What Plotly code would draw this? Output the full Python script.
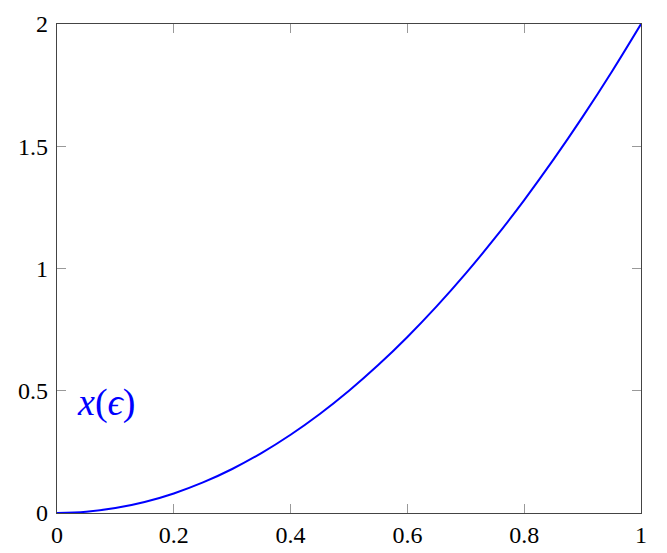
import plotly.graph_objects as go

eps = [0.0, 0.05, 0.1, 0.15, 0.2, 0.25, 0.3, 0.35, 0.4, 0.45, 0.5,
       0.55, 0.6, 0.65, 0.7, 0.75, 0.8, 0.85, 0.9, 0.95, 1.0]
x_eps = [0.0, 0.005, 0.02, 0.045, 0.08, 0.125, 0.18, 0.245, 0.32, 0.405, 0.5,
         0.605, 0.72, 0.845, 0.98, 1.125, 1.28, 1.445, 1.62, 1.805, 2.0]
x_ticks = [0, 0.2, 0.4, 0.6, 0.8, 1]
x_ticklabels = ["0", "0.2", "0.4", "0.6", "0.8", "1"]
y_ticks = [0, 0.5, 1, 1.5, 2]
y_ticklabels = ["0", "0.5", "1", "1.5", "2"]

FONT = "Liberation Serif"

fig = go.Figure()
fig.add_trace(go.Scatter(x=eps, y=x_eps, mode="lines", line=dict(color="#0000ff", width=2, shape="spline"),
                         showlegend=False, hoverinfo="skip"))

axis_common = dict(showgrid=False, zeroline=False, showline=True, linecolor="#444444", linewidth=1.2,
                   mirror="ticks", ticks="inside", ticklen=9, tickcolor="#999999", tickwidth=1.2,
                   tickfont=dict(family=FONT, size=24, color="black"), automargin=False)
fig.update_xaxes(range=[0, 1], tickvals=x_ticks, ticktext=x_ticklabels, ticklabelstandoff=0, **axis_common)
fig.update_yaxes(range=[0, 2], tickvals=y_ticks, ticktext=y_ticklabels, ticklabelstandoff=3, **axis_common)

fig.add_annotation(x=0.03, y=0.45, xref="x", yref="y", text="<i>x</i>(<i>ϵ</i>)", showarrow=False,
                   xanchor="left", yanchor="middle",
                   font=dict(family=FONT, size=38, color="#0000ff"))

fig.update_layout(width=667, height=553, margin=dict(l=49, r=34, t=16, b=48),
                  plot_bgcolor="white", paper_bgcolor="white")
fig.write_html("out.html")
